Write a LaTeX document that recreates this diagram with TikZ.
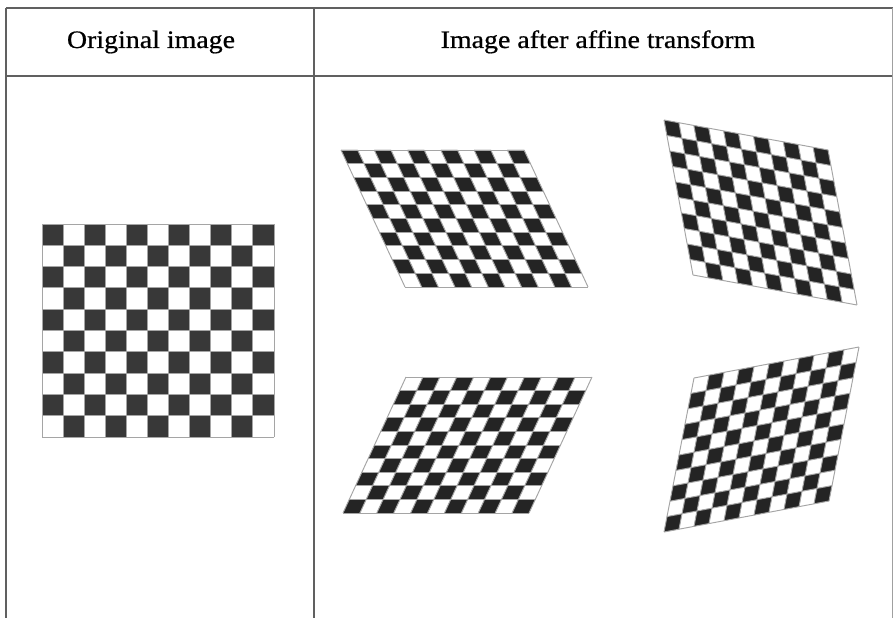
\documentclass[tikz,border=0pt]{standalone}
\usepackage{tikz}
\usepackage{xcolor}
\usepackage{fontspec}
\newfontfamily\headfont[FakeStretch=1.11,FakeBold=0.7]{Liberation Serif}
\definecolor{tableGray}{RGB}{96,96,96}
\definecolor{edgeGray}{RGB}{160,160,160}
\definecolor{cellDark}{RGB}{56,56,56}
\definecolor{cellBlack}{RGB}{36,36,36}
\definecolor{gridGray}{RGB}{165,165,165}
\newcommand{\HeadText}[1]{{\headfont\fontsize{14.3}{17.0}\selectfont #1}}
\newcommand{\CheckBoard}[8]{%
  \foreach \ci in {0,...,10}{
    \foreach \rj in {0,...,9}{
      \pgfmathtruncatemacro{\cellodd}{mod(\ci+\rj+#7,2)}
      \ifnum\cellodd=0
        \fill[#8] ({#1+\ci*(#3)+\rj*(#5)},{#2+\ci*(#4)+\rj*(#6)}) -- ++(#3,#4) -- ++(#5,#6) -- ++({-(#3)},{-(#4)}) -- cycle;
      \fi
    }
  }
  \foreach \ci in {0,...,11}
    \draw[gridGray, line width=0.55pt] ({#1+\ci*(#3)},{#2+\ci*(#4)}) -- ++({10*(#5)},{10*(#6)});
  \foreach \rj in {0,...,10}
    \draw[gridGray, line width=0.55pt] ({#1+\rj*(#5)},{#2+\rj*(#6)}) -- ++({11*(#3)},{11*(#4)});
}

\begin{document}
\begin{tikzpicture}[x=0.02cm,y=-0.02cm]
\useasboundingbox (0,0) rectangle (893,618);
\draw[tableGray, line width=1.1pt] (6,8) -- (893,8) (6,76) -- (893,76) (6,8) -- (6,618) (314,8) -- (314,618);
\draw[edgeGray, line width=0.6pt] (892.5,8) -- (892.5,618);
\node[anchor=base, inner sep=0pt] (origHead) at (151,48) {\HeadText{Original image}};
\node[anchor=base, inner sep=0pt] (affHead) at (598,48) {\HeadText{Image after affine transform}};
\CheckBoard{42}{224}{21.09}{0}{0}{21.3}{0}{cellDark}
\CheckBoard{341}{150}{16.64}{0}{6.4}{13.7}{0}{cellBlack}
\CheckBoard{664}{120}{14.91}{2.727}{2.9}{15.5}{0}{cellBlack}
\CheckBoard{406}{377}{16.91}{0}{-6.3}{13.6}{1}{cellBlack}
\CheckBoard{694}{378}{15}{-2.818}{-3.0}{15.4}{1}{cellBlack}
\end{tikzpicture}
\end{document}
